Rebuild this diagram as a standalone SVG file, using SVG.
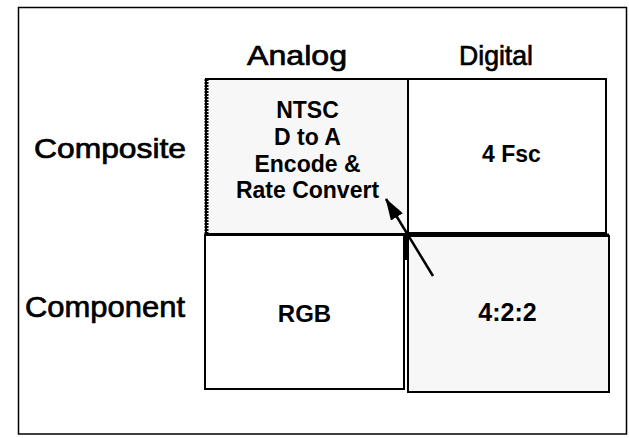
<svg xmlns="http://www.w3.org/2000/svg" width="629" height="438" viewBox="0 0 629 438">
<defs>
<style>
.hdr{font-family:"Liberation Sans",Arial,sans-serif;font-size:28px;fill:#000;stroke:#000;stroke-width:0.7px}
.lbl{font-family:"Liberation Sans",Arial,sans-serif;font-size:23px;font-weight:bold;fill:#000;text-anchor:middle}
.box{stroke:#000;stroke-width:2}
.gray{fill:#f7f7f7}
.white{fill:#fff}
</style>
<marker id="ah" markerWidth="22" markerHeight="14" refX="21" refY="7" orient="auto" markerUnits="userSpaceOnUse" viewBox="0 0 22 14">
<path d="M0,0 L22,7 L0,14 Z" fill="#000"/>
</marker>
</defs>
<rect x="0" y="0" width="629" height="438" fill="#fff"/>
<rect x="18.5" y="7.5" width="608" height="426.5" fill="none" stroke="#000" stroke-width="1.5"/>
<g id="headers">
<text class="hdr" x="247" y="65" textLength="100" lengthAdjust="spacingAndGlyphs">Analog</text>
<text class="hdr" x="459" y="65" textLength="74" lengthAdjust="spacingAndGlyphs">Digital</text>
<text class="hdr" x="34" y="158" textLength="152" lengthAdjust="spacingAndGlyphs">Composite</text>
<text class="hdr" x="25" y="317" style="font-size:30px" textLength="160" lengthAdjust="spacingAndGlyphs">Component</text>
</g>
<g id="node-ntsc">
<rect class="box gray" x="206" y="79" width="202" height="155"/>
<line x1="206.5" y1="79" x2="206.5" y2="234" stroke="#000" stroke-width="4" stroke-dasharray="2,1"/>
<text class="lbl" x="307.5" y="118">NTSC</text>
<text class="lbl" x="307.5" y="145">D to A</text>
<text class="lbl" x="307.5" y="172">Encode &amp;</text>
<text class="lbl" x="307.5" y="198">Rate Convert</text>
</g>
<g id="node-4fsc">
<rect class="box white" x="408" y="79" width="198" height="154"/>
<text class="lbl" x="511.5" y="162">4 Fsc</text>
</g>
<g id="node-rgb">
<rect class="box white" x="205" y="235" width="199" height="154"/>
<line x1="405.5" y1="235" x2="405.5" y2="260" stroke="#000" stroke-width="4"/>
<text class="lbl" x="304.5" y="322" style="font-size:24px">RGB</text>
</g>
<g id="node-422">
<rect class="box gray" x="408" y="236" width="201" height="156"/>
<line x1="408" y1="235" x2="609" y2="235" stroke="#000" stroke-width="3"/>
<text class="lbl" x="507.5" y="321" style="font-size:25px">4:2:2</text>
</g>
<g id="connectors">
<line x1="433" y1="276" x2="386" y2="199" stroke="#000" stroke-width="2.5" marker-end="url(#ah)"/>
</g>
</svg>
